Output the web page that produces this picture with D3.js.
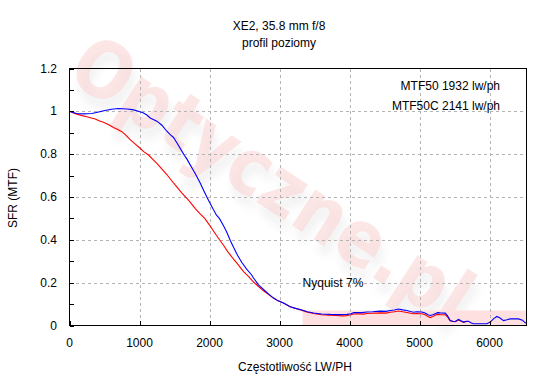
<!DOCTYPE html>
<html>
<head>
<meta charset="utf-8">
<script src="https://cdn.jsdelivr.net/npm/d3@7/dist/d3.min.js"></script>
<style>
  html, body { margin: 0; padding: 0; background: #fff; }
  svg { display: block; }
  text { font-family: "Liberation Sans", Arial, sans-serif; font-size: 12px; fill: #000; }
</style>
</head>
<body>
<svg id="chart" width="550" height="380"></svg>
<script>
// ---------- data ----------
const titleLines = ["XE2, 35.8 mm f/8", "profil poziomy"];
const xLabel = "Częstotliwość LW/PH";
const yLabel = "SFR (MTF)";
const xTicks = [0, 1000, 2000, 3000, 4000, 5000, 6000];
const yTicks = [0, 0.2, 0.4, 0.6, 0.8, 1, 1.2];
const yMinorTicks = [0.1, 0.3, 0.5, 0.7, 0.9, 1.1];
const xMax = 6528;
const legendLines = ["MTF50 1932 lw/ph", "MTF50C 2141 lw/ph"];
const nyquistFreq = 3330;
const nyquistValue = 0.07;
const nyquistLabel = "Nyquist 7%";
const watermark = "Optyczne.pl";

const blueFreq = [0,50,100,200,320,400,490,600,700,820,900,960,1050,1105,1153,1248,1320,1390,1439,1486,1540,1581,1640,1676,1724,1771,1820,1867,1915,1962,2000,2057,2100,2141,2200,2247,2300,2343,2400,2462,2533,2600,2629,2700,2771,2850,2914,2980,3057,3152,3230,3296,3400,3486,3600,3724,3850,3962,4020,4060,4105,4180,4248,4330,4438,4520,4581,4640,4700,4760,4819,4870,4914,4960,5033,5080,5120,5152,5190,5224,5260,5295,5367,5400,5438,5475,5510,5557,5590,5629,5670,5700,5740,5771,5900,5962,6010,6060,6105,6150,6200,6250,6295,6360,6414,6470,6510,6528];
const blueMTF = [1.0,0.995,0.99,0.988,0.99,0.996,1.003,1.01,1.013,1.011,1.008,1.003,0.993,0.983,0.969,0.954,0.935,0.907,0.891,0.878,0.85,0.827,0.795,0.778,0.75,0.724,0.695,0.665,0.632,0.60,0.575,0.54,0.515,0.50,0.466,0.435,0.395,0.365,0.328,0.294,0.262,0.237,0.222,0.19,0.168,0.145,0.128,0.115,0.105,0.088,0.08,0.075,0.064,0.058,0.054,0.052,0.051,0.052,0.055,0.06,0.061,0.06,0.063,0.064,0.067,0.066,0.07,0.072,0.077,0.073,0.07,0.065,0.062,0.064,0.063,0.058,0.05,0.047,0.05,0.055,0.06,0.059,0.058,0.045,0.023,0.02,0.019,0.028,0.022,0.016,0.02,0.02,0.012,0.008,0.008,0.008,0.016,0.032,0.042,0.035,0.023,0.027,0.031,0.031,0.031,0.025,0.0125,0.01];

const redFreq = [0,50,105,180,248,300,367,430,486,560,628,690,748,800,867,940,1000,1060,1129,1190,1248,1343,1390,1460,1533,1600,1700,1800,1870,1932,2000,2105,2200,2260,2343,2400,2486,2560,2629,2700,2771,2850,2914,2980,3057,3152,3230,3300,3400,3486,3600,3700,3800,3900,3962,4020,4060,4105,4200,4248,4330,4438,4520,4581,4640,4700,4760,4819,4870,4914,4960,5033,5080,5120,5152,5190,5224,5260,5295,5367,5400,5438,5475,5510,5557,5590,5629,5670,5700];
const redMTF = [1.0,0.993,0.987,0.98,0.975,0.97,0.964,0.955,0.949,0.937,0.925,0.915,0.905,0.89,0.868,0.847,0.83,0.812,0.796,0.776,0.757,0.722,0.705,0.676,0.647,0.62,0.585,0.545,0.52,0.5,0.469,0.418,0.375,0.345,0.31,0.288,0.252,0.228,0.203,0.182,0.162,0.143,0.128,0.115,0.105,0.088,0.079,0.073,0.062,0.056,0.05,0.048,0.047,0.045,0.046,0.05,0.054,0.055,0.053,0.056,0.057,0.059,0.058,0.062,0.064,0.068,0.064,0.061,0.057,0.055,0.056,0.055,0.05,0.042,0.037,0.042,0.048,0.052,0.051,0.05,0.04,0.022,0.019,0.018,0.026,0.021,0.015,0.019,0.019];

// ---------- layout ----------
const svg = d3.select("#chart");
const L = 69.5, R = 526.5, T = 68.5, B = 325.5;
const x = d3.scaleLinear().domain([0, xMax]).range([L, R]);
const y = d3.scaleLinear().domain([0, 1.2]).range([B, T]);

// watermark
const defs = svg.append("defs");
const f = defs.append("filter").attr("id", "blur").attr("x", "-20%").attr("y", "-20%").attr("width", "140%").attr("height", "140%");
f.append("feGaussianBlur").attr("stdDeviation", 5);
const wm = svg.append("g").attr("transform", "translate(272,180) rotate(33)");
const wmStyle = t => t.text(watermark)
  .attr("text-anchor", "middle").attr("dominant-baseline", "central")
  .attr("textLength", 460).attr("lengthAdjust", "spacingAndGlyphs")
  .style("font-family", "'DejaVu Sans', sans-serif")
  .style("font-size", "78px").style("font-weight", "bold");
wm.append("text").call(wmStyle)
  .attr("x", 8).attr("y", 8)
  .style("fill", "#000").style("opacity", 0.05).attr("filter", "url(#blur)");
wm.append("text").call(wmStyle)
  .style("fill", "#fcd6d6").style("opacity", 0.6);

// Nyquist shaded zone
svg.append("rect")
  .attr("x", x(nyquistFreq)).attr("y", y(nyquistValue))
  .attr("width", x(xMax) - x(nyquistFreq)).attr("height", y(0) - y(nyquistValue))
  .attr("fill", "#ffe0e0");

// grid
const gridStyle = g => g.attr("stroke", "#b4b4b4").attr("stroke-width", 1).attr("stroke-dasharray", "3,3").attr("shape-rendering", "crispEdges");
svg.append("g").selectAll("line").data(xTicks.filter(d => d > 0)).join("line")
  .attr("x1", d => Math.round(x(d)) + 0.5).attr("x2", d => Math.round(x(d)) + 0.5)
  .attr("y1", T).attr("y2", B).call(gridStyle);
svg.append("g").selectAll("line").data(yTicks.filter(d => d > 0 && d < 1.2)).join("line")
  .attr("y1", d => Math.round(y(d)) + 0.5).attr("y2", d => Math.round(y(d)) + 0.5)
  .attr("x1", L).attr("x2", R).call(gridStyle);

// curves
const line = d3.line().x(d => x(d[0])).y(d => y(d[1]));
const redData = redFreq.map((f, i) => [f, redMTF[i]]);
const blueData = blueFreq.map((f, i) => [f, blueMTF[i]]);
svg.append("path").datum(redData).attr("d", line).attr("fill", "none").attr("stroke", "#ff0000").attr("stroke-width", 1.1);
svg.append("path").datum(blueData).attr("d", line).attr("fill", "none").attr("stroke", "#0000ff").attr("stroke-width", 1.1);

// frame
svg.append("rect").attr("x", L).attr("y", T).attr("width", R - L).attr("height", B - T)
  .attr("fill", "none").attr("stroke", "#000").attr("stroke-width", 1).attr("shape-rendering", "crispEdges");

// ticks
svg.append("g").selectAll("line").data(yTicks.concat(yMinorTicks)).join("line")
  .attr("x1", L).attr("x2", L + 4)
  .attr("y1", d => Math.round(y(d)) + 0.5).attr("y2", d => Math.round(y(d)) + 0.5)
  .attr("stroke", "#000").attr("shape-rendering", "crispEdges");
svg.append("g").selectAll("line").data(xTicks).join("line")
  .attr("x1", d => Math.round(x(d)) + 0.5).attr("x2", d => Math.round(x(d)) + 0.5)
  .attr("y1", B).attr("y2", B - 5)
  .attr("stroke", "#000").attr("shape-rendering", "crispEdges");

// tick labels
svg.append("g").selectAll("text").data(yTicks).join("text")
  .attr("x", 57).attr("y", d => y(d) + 4)
  .attr("text-anchor", "end").text(d => String(d));
svg.append("g").selectAll("text").data(xTicks).join("text")
  .attr("x", d => x(d)).attr("y", 347)
  .attr("text-anchor", "middle").text(d => String(d));

// axis titles
svg.append("text").attr("x", 295).attr("y", 371).attr("text-anchor", "middle").text(xLabel);
svg.append("text").attr("transform", "translate(17,198) rotate(-90)").attr("text-anchor", "middle").text(yLabel);

// title
svg.selectAll(".title").data(titleLines).join("text").attr("class", "title")
  .attr("x", 279).attr("y", (d, i) => 30 + i * 17).attr("text-anchor", "middle").text(d => d);

// legend text
svg.selectAll(".leg").data(legendLines).join("text").attr("class", "leg")
  .attr("x", 500).attr("y", (d, i) => 90 + i * 20).attr("text-anchor", "end").text(d => d);

// Nyquist label
svg.append("text").attr("x", x(nyquistFreq)).attr("y", 287).text(nyquistLabel);
</script>
</body>
</html>
